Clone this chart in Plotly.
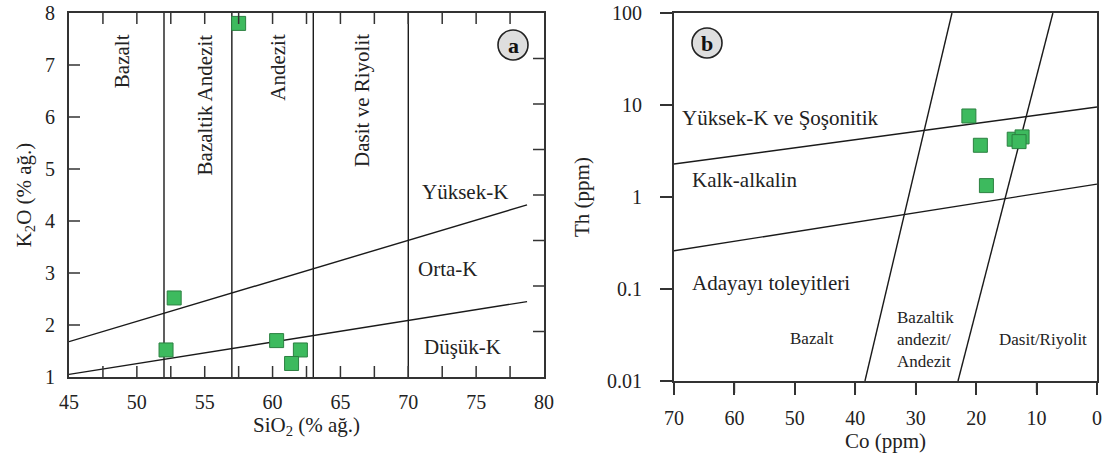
import plotly.graph_objects as go

# ---- Panel a: SiO2 vs K2O ----
sio2 = [57.5, 52.75, 52.15, 60.3, 62.05, 61.4]
k2o = [7.80, 2.52, 1.52, 1.70, 1.52, 1.26]

sio2_bounds = [52, 57, 63, 70]
highk_x = [45, 78.75]
highk_y = [1.68, 4.31]
lowk_x = [45, 78.75]
lowk_y = [1.05, 2.45]

rock_labels = ["Bazalt", "Bazaltik Andezit", "Andezit", "Dasit ve Riyolit"]
rock_label_x = [48.9, 55.0, 60.4, 66.6]
series_labels = ["Yüksek-K", "Orta-K", "Düşük-K"]
series_label_x = [74.2, 72.9, 74.0]
series_label_y = [4.56, 3.08, 1.58]

a_xticks = [45, 50, 55, 60, 65, 70, 75, 80]
a_xminor = [47.5, 50, 52.5, 55, 57.5, 60, 62.5, 65, 67.5, 70, 72.5, 75, 77.5]
a_yticks = [1, 2, 3, 4, 5, 6, 7, 8]
a_yinner = [2, 3, 4, 5, 6, 7]
a_right_ticks = [1, 2, 3, 4, 5, 6, 7]  # right frame scale runs 0-8

# ---- Panel b: Co vs Th ----
co = [21.2, 19.3, 13.7, 12.4, 12.9, 18.3]
th = [7.6, 3.65, 4.25, 4.5, 4.0, 1.33]

upper_co = [70, 0]
upper_th = [2.28, 9.5]
lower_co = [70, 0]
lower_th = [0.26, 1.38]
steep1_co = [38.4, 24.0]
steep2_co = [23.0, 7.3]
steep_th = [0.01, 100]

b_yticks = [0.01, 0.1, 1, 10, 100]
b_yticktext = ["0.01", "0.1", "1", "10", "100"]
b_xticks = [70, 60, 50, 40, 30, 20, 10, 0]

FONT = "Liberation Serif"
INK = "#222222"
AXIS = "#333333"
GREEN = "#3dba5e"
GREEN_EDGE = "#2b8040"

W, H = 1107, 461
A_LEFT, A_RIGHT, A_TOP, A_BOTTOM = 69, 544, 13, 377
B_LEFT, B_RIGHT, B_TOP, B_BOTTOM = 674, 1097, 13, 381
TL_A, TL_B = 11, 12


def px_x(p):
    return p / W


def px_y(p):
    return 1 - p / H


fig = go.Figure()
line_style = dict(color="#1a1a1a", width=1.4)

for xb in sio2_bounds:
    fig.add_trace(go.Scatter(x=[xb, xb], y=[1, 8], mode="lines", line=line_style,
                             xaxis="x", yaxis="y", showlegend=False, hoverinfo="skip"))
fig.add_trace(go.Scatter(x=highk_x, y=highk_y, mode="lines", line=line_style,
                         xaxis="x", yaxis="y", showlegend=False, hoverinfo="skip"))
fig.add_trace(go.Scatter(x=lowk_x, y=lowk_y, mode="lines", line=line_style,
                         xaxis="x", yaxis="y", showlegend=False, hoverinfo="skip"))
fig.add_trace(go.Scatter(x=sio2, y=k2o, mode="markers", xaxis="x", yaxis="y",
                         marker=dict(symbol="square", size=14, color=GREEN,
                                     line=dict(color=GREEN_EDGE, width=1)),
                         cliponaxis=False, showlegend=False))

fig.add_trace(go.Scatter(x=upper_co, y=upper_th, mode="lines", line=line_style,
                         xaxis="x2", yaxis="y2", showlegend=False, hoverinfo="skip"))
fig.add_trace(go.Scatter(x=lower_co, y=lower_th, mode="lines", line=line_style,
                         xaxis="x2", yaxis="y2", showlegend=False, hoverinfo="skip"))
fig.add_trace(go.Scatter(x=steep1_co, y=steep_th, mode="lines", line=line_style,
                         xaxis="x2", yaxis="y2", showlegend=False, hoverinfo="skip"))
fig.add_trace(go.Scatter(x=steep2_co, y=steep_th, mode="lines", line=line_style,
                         xaxis="x2", yaxis="y2", showlegend=False, hoverinfo="skip"))
fig.add_trace(go.Scatter(x=co, y=th, mode="markers", xaxis="x2", yaxis="y2",
                         marker=dict(symbol="square", size=14, color=GREEN,
                                     line=dict(color=GREEN_EDGE, width=1)),
                         cliponaxis=False, showlegend=False))

tick_line = dict(color=AXIS, width=1.5)

# bottom/top ticks of panel a drawn on the panel's own scale
k_per_px = (8 - 1) / (A_BOTTOM - A_TOP)
bx, by = [], []
for v in a_xminor:
    bx += [v, v, None, v, v, None]
    by += [1, 1 + TL_A * k_per_px, None, 8 - TL_A * k_per_px, 8, None]
fig.add_trace(go.Scatter(x=bx, y=by, mode="lines", line=tick_line, xaxis="x", yaxis="y",
                         showlegend=False, hoverinfo="skip"))

# left ticks of panel a on the panel's own scale
s_per_px = (80 - 45) / (A_RIGHT - A_LEFT)
lx, ly = [], []
for v in a_yinner:
    lx += [45, 45 + TL_A * s_per_px, None]
    ly += [v, v, None]
fig.add_trace(go.Scatter(x=lx, y=ly, mode="lines", line=tick_line, xaxis="x", yaxis="y",
                         showlegend=False, hoverinfo="skip"))

tick_font = dict(family=FONT, size=20, color=INK)
title_font = dict(family=FONT, size=21, color=INK)
hidden = dict(showticklabels=False, ticks="", showline=False, showgrid=False,
              zeroline=False, automargin=False)

A_XDOM = [px_x(A_LEFT), px_x(A_RIGHT)]
A_YDOM = [px_y(A_BOTTOM), px_y(A_TOP)]
B_XDOM = [px_x(B_LEFT), px_x(B_RIGHT)]
B_YDOM = [px_y(B_BOTTOM), px_y(B_TOP)]

fig.update_layout(
    width=W, height=H,
    margin=dict(l=0, r=0, t=0, b=0),
    paper_bgcolor="white", plot_bgcolor="rgba(0,0,0,0)",
    font=dict(family=FONT, color=INK),
    xaxis=dict(domain=A_XDOM, range=[45, 80], anchor="y", automargin=False,
               tickmode="array", tickvals=a_xticks, ticks="",
               showline=True, linecolor=AXIS, linewidth=1.8, mirror=True,
               showgrid=False, zeroline=False, tickfont=tick_font,
               ticklabelstandoff=6,
               title=dict(text="SiO<sub>2</sub> (% ağ.)", font=title_font, standoff=4)),
    yaxis=dict(domain=A_YDOM, range=[1, 8], anchor="x", automargin=False,
               tickmode="array", tickvals=a_yticks, ticks="",
               showline=True, linecolor=AXIS, linewidth=1.8, mirror=True,
               showgrid=False, zeroline=False, tickfont=tick_font,
               ticklabelstandoff=8,
               title=dict(text="K<sub>2</sub>O (% ağ.)", font=title_font, standoff=8)),
    yaxis3=dict(domain=A_YDOM, range=[0, 8], anchor="x", overlaying="y", side="right",
                **hidden),
    xaxis2=dict(domain=B_XDOM, range=[70, 0], anchor="y2", automargin=False,
                tickmode="array", tickvals=b_xticks,
                ticks="outside", ticklen=TL_B, tickwidth=1.5, tickcolor=AXIS,
                showline=True, linecolor=AXIS, linewidth=1.8, mirror=True,
                showgrid=False, zeroline=False, tickfont=tick_font,
                ticklabelstandoff=6,
                title=dict(text="Co (ppm)", font=title_font, standoff=4)),
    yaxis2=dict(domain=B_YDOM, type="log", range=[-2, 2], anchor="x2", automargin=False,
                tickmode="array", tickvals=b_yticks, ticktext=b_yticktext,
                ticks="outside", ticklen=TL_B, tickwidth=1.5, tickcolor=AXIS,
                showline=True, linecolor=AXIS, linewidth=1.8, mirror=True,
                showgrid=False, zeroline=False, tickfont=tick_font,
                ticklabelstandoff=14,
                title=dict(text="Th (ppm)", font=title_font, standoff=12)),
)

# right frame ticks of panel a (0-8 scale)
for v in a_right_ticks:
    fig.add_shape(type="line", xref="x domain", yref="y3", y0=v, y1=v,
                  xsizemode="pixel", xanchor=1, x0=0, x1=-TL_A, line=tick_line)
# panel b outside ticks as shapes with the same construction
for v in b_yticks:
    fig.add_shape(type="line", xref="x2 domain", yref="y2", y0=v, y1=v,
                  xsizemode="pixel", xanchor=0, x0=0, x1=-TL_B, line=tick_line)
for v in b_xticks:
    fig.add_shape(type="line", xref="x2", yref="y2 domain", x0=v, x1=v,
                  ysizemode="pixel", yanchor=0, y0=0, y1=-TL_B, line=tick_line)

big = dict(family=FONT, size=21, color=INK)
small = dict(family=FONT, size=17, color=INK)

for txt, xv in zip(rock_labels, rock_label_x):
    fig.add_annotation(x=xv, y=7.63, xref="x", yref="y", text=txt, textangle=-90,
                       showarrow=False, yanchor="top", font=big)
for txt, xv, yv in zip(series_labels, series_label_x, series_label_y):
    fig.add_annotation(x=xv, y=yv, xref="x", yref="y", text=txt,
                       showarrow=False, font=big)

fig.add_annotation(x=69.0, y=0.859, xref="x2", yref="y2", text="Yüksek-K ve Şoşonitik",
                   showarrow=False, xanchor="left", font=big)
fig.add_annotation(x=67.4, y=0.185, xref="x2", yref="y2", text="Kalk-alkalin",
                   showarrow=False, xanchor="left", font=big)
fig.add_annotation(x=67.4, y=-0.935, xref="x2", yref="y2", text="Adayayı toleyitleri",
                   showarrow=False, xanchor="left", font=big)
fig.add_annotation(x=47.2, y=-1.543, xref="x2", yref="y2", text="Bazalt",
                   showarrow=False, font=small)
fig.add_annotation(x=33.4, y=-1.554, xref="x2", yref="y2",
                   text="Bazaltik<br>andezit/<br>Andezit", align="left",
                   showarrow=False, xanchor="left", font=small)
fig.add_annotation(x=8.9, y=-1.554, xref="x2", yref="y2", text="Dasit/Riyolit",
                   showarrow=False, font=small)

for cx, cy, letter in [(513, 45, "a"), (707, 43, "b")]:
    r = 15
    fig.add_shape(type="circle", xref="paper", yref="paper",
                  x0=px_x(cx - r), x1=px_x(cx + r), y0=px_y(cy + r), y1=px_y(cy - r),
                  fillcolor="#dedede", line=dict(color="#222222", width=1.6))
    fig.add_annotation(x=px_x(cx), y=px_y(cy), xref="paper", yref="paper",
                       xanchor="center", yanchor="middle",
                       text=f"<b>{letter}</b>", showarrow=False,
                       font=dict(family=FONT, size=22, color="#111111"))

fig.write_html("out.html")
